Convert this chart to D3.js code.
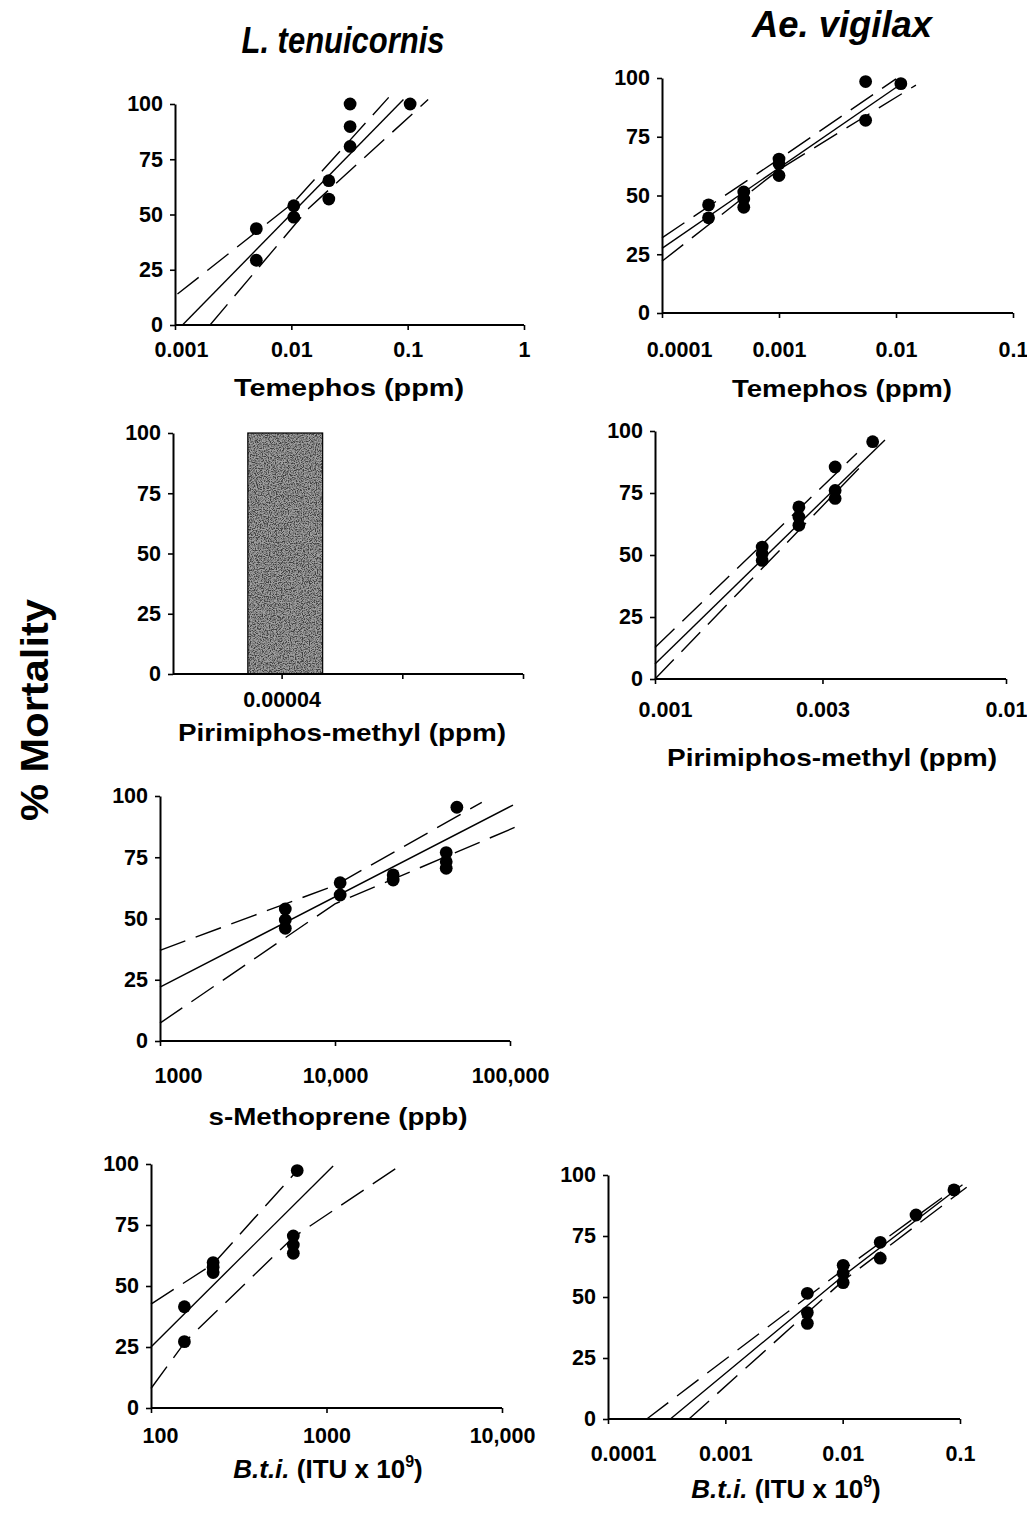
<!DOCTYPE html>
<html><head><meta charset="utf-8">
<script src="https://cdn.jsdelivr.net/npm/d3@7"></script>
<style>body{margin:0;background:#fff} svg{display:block}</style>
</head><body>
<svg id="c" width="1027" height="1514"></svg>
<script>
// ---------------- DATA ----------------
const mortTicks = [0, 25, 50, 75, 100];

// L. tenuicornis - Temephos (ppm)
const ltTemTicks = [0.001, 0.01, 0.1, 1];
const ltTemTickLabels = ["0.001", "0.01", "0.1", "1"];
const ltTemDose = [0.005, 0.005, 0.0105, 0.0105, 0.021, 0.021, 0.032, 0.032, 0.032, 0.105];
const ltTemMort = [43.6, 29.3, 54, 48.8, 65.3, 57, 100, 89.8, 80.8, 100];
const ltTemFit   = [[0.00116, 0], [0.092, 102]];
const ltTemUpper = [[0.00105, 14], [0.0105, 55.5], [0.0687, 103]];
const ltTemLower = [[0.002, 0], [0.0142, 53], [0.15, 102]];

// Ae. vigilax - Temephos (ppm)
const avTemTicks = [0.0001, 0.001, 0.01, 0.1];
const avTemTickLabels = ["0.0001", "0.001", "0.01", "0.1"];
const avTemDose = [0.00025, 0.00025, 0.0005, 0.0005, 0.0005, 0.001, 0.001, 0.001, 0.0055, 0.0055, 0.011];
const avTemMort = [46, 40.5, 51.5, 48.5, 45, 65.5, 63.5, 58.5, 98.5, 82, 97.6];
const avTemFit   = [[0.0001, 27.5], [0.0117, 98.3]];
const avTemUpper = [[0.0001, 32], [0.001, 65.5], [0.01, 99.6]];
const avTemLower = [[0.0001, 22], [0.001, 61], [0.0148, 97]];

// L. tenuicornis - Pirimiphos-methyl (ppm): single dose bar
const ltPirTicks = [1, 2, 3];
const ltPirTickLabels = ["0.00004", "", ""];
const ltPirBarDose = ["0.00004"];
const ltPirBarMort = [100];

// Ae. vigilax - Pirimiphos-methyl (ppm)
const avPirTicks = [0.001, 0.003, 0.01];
const avPirTickLabels = ["0.001", "0.003", "0.01"];
const avPirDose = [0.00202, 0.00202, 0.00202, 0.00257, 0.00257, 0.00257, 0.00326, 0.00326, 0.00326, 0.00417];
const avPirMort = [53.2, 50.5, 47.8, 69.4, 65.3, 62, 85.5, 76, 72.8, 95.7];
const avPirFit   = [[0.001, 6], [0.00452, 96.4]];
const avPirUpper = [[0.001, 12.7], [0.00376, 91]];
const avPirLower = [[0.001, 0], [0.0040, 88]];

// L. tenuicornis - s-Methoprene (ppb)
const ltMetTicks = [1000, 10000, 100000];
const ltMetTickLabels = ["1000", "10,000", "100,000"];
const ltMetDose = [5200, 5200, 5200, 10700, 10700, 21500, 21500, 43200, 43200, 43200, 49700];
const ltMetMort = [53.9, 49.4, 46, 64.6, 59.6, 67.8, 65.7, 76.9, 73.2, 70.5, 95.4];
const ltMetFit   = [[1000, 22], [104000, 96.3]];
const ltMetUpper = [[1000, 37], [10000, 63.5], [69000, 97.4]];
const ltMetLower = [[1000, 7.3], [10000, 56], [109000, 87.5]];

// L. tenuicornis - B.t.i. (ITU x 10^9)
const ltBtiTicks = [100, 1000, 10000];
const ltBtiTickLabels = ["100", "1000", "10,000"];
const ltBtiDose = [155, 155, 226, 226, 226, 647, 647, 647, 681];
const ltBtiMort = [41.5, 27.2, 59.6, 57.7, 55.5, 70.5, 66.8, 63.4, 97.3];
const ltBtiFit   = [[100, 25], [1091, 99.2]];
const ltBtiUpper = [[100, 42.6], [226, 59], [681, 97.3]];
const ltBtiLower = [[100, 8], [158, 27.5], [647, 70], [2466, 98]];

// Ae. vigilax - B.t.i. (ITU x 10^9)
const avBtiTicks = [0.0001, 0.001, 0.01, 0.1];
const avBtiTickLabels = ["0.0001", "0.001", "0.01", "0.1"];
const avBtiDose = [0.005, 0.005, 0.005, 0.0101, 0.0101, 0.0101, 0.0209, 0.0209, 0.0422, 0.0888];
const avBtiMort = [51.5, 43.6, 39.2, 63, 59.7, 55.9, 72.4, 65.9, 83.6, 93.9];
const avBtiFit   = [[0.00034, 0], [0.01, 58.5], [0.105, 96]];
const avBtiUpper = [[0.000214, 0], [0.01, 61], [0.097, 95.6]];
const avBtiLower = [[0.00049, 0], [0.01, 56.5], [0.114, 95]];

// ---------------- DRAWING ----------------
const FONT = "'Liberation Sans', Arial, Helvetica, sans-serif";
const NARROW = "'Liberation Sans Narrow', 'Arial Narrow', 'Liberation Sans', Arial, sans-serif";
const svg = d3.select("#c");

const defs = svg.append("defs");
const filt = defs.append("filter").attr("id", "grain")
  .attr("x", 0).attr("y", 0).attr("width", 1).attr("height", 1);
filt.append("feTurbulence").attr("type", "fractalNoise").attr("baseFrequency", 0.85)
  .attr("numOctaves", 3).attr("seed", 11).attr("result", "noise");
filt.append("feColorMatrix").attr("in", "noise").attr("type", "matrix")
  .attr("values", "0 0 0 0 0.05  0 0 0 0 0.05  0 0 0 0 0.05  3.2 0 0 0 -1.15")
  .attr("result", "specks");
filt.append("feComposite").attr("in", "specks").attr("in2", "SourceGraphic")
  .attr("operator", "in").attr("result", "clipped");
const fm = filt.append("feMerge");
fm.append("feMergeNode").attr("in", "SourceGraphic");
fm.append("feMergeNode").attr("in", "clipped");

function drawAxes(x, y, o) {
  const g = svg.append("g");
  const x0 = o.yAxisX !== undefined ? o.yAxisX : x.range()[0];
  const ya = g.append("g").attr("transform", `translate(${x0},0)`)
    .call(d3.axisLeft(y).tickValues(mortTicks).tickSize(5).tickSizeOuter(0).tickPadding(7));
  ya.selectAll("text").attr("font-family", FONT).attr("font-weight", "bold")
    .attr("font-size", 21.5).attr("fill", "#000");
  const xa = g.append("g").attr("transform", `translate(0,${y(0)})`)
    .call(d3.axisBottom(x).tickValues(o.ticks).tickFormat((d, i) => o.labels[i])
      .tickSize(5).tickSizeOuter(0).tickPadding(o.labPad));
  xa.selectAll("text").attr("font-family", FONT).attr("font-weight", "bold")
    .attr("font-size", 21.5).attr("fill", "#000")
    .attr("dx", (d, i) => i === 0 ? o.dx0 : 0);
  xa.select(".domain").attr("d", `M${x0},0H${x.range()[1]}`);
  g.selectAll(".domain").attr("stroke", "#000").attr("stroke-width", 2);
  g.selectAll(".tick line").attr("stroke", "#000").attr("stroke-width", 1.6);
}

function drawFit(x, y, solid, upper, lower) {
  const line = d3.line().x(d => x(d[0])).y(d => y(d[1]));
  const g = svg.append("g").attr("fill", "none").attr("stroke", "#000").attr("stroke-width", 1.4);
  g.append("path").attr("d", line(solid));
  g.append("path").attr("d", line(upper)).attr("stroke-dasharray", "27,11");
  g.append("path").attr("d", line(lower)).attr("stroke-dasharray", "27,11");
}

function drawPoints(x, y, dose, mort) {
  svg.append("g").selectAll("circle").data(dose).join("circle")
    .attr("cx", d => x(d)).attr("cy", (d, i) => y(mort[i])).attr("r", 6.4).attr("fill", "#000");
}

function axisTitle(cx, by, width, build, size) {
  const t = svg.append("text").attr("x", cx).attr("y", by).attr("text-anchor", "middle")
    .attr("font-family", FONT).attr("font-weight", "bold").attr("font-size", size || 24).attr("fill", "#000");
  build(t);
  if (width) t.attr("textLength", width).attr("lengthAdjust", "spacingAndGlyphs");
  return t;
}
function btiTitle(t) {
  t.append("tspan").attr("font-style", "italic").text("B.t.i.");
  t.append("tspan").text(" (ITU x 10");
  t.append("tspan").attr("font-size", 16).attr("dy", -11).text("9");
  t.append("tspan").attr("dy", 11).text(")");
}

// Panel 1: L. tenuicornis Temephos
{
  const x = d3.scaleLog().domain([0.001, 1]).range([175, 524]);
  const y = d3.scaleLinear().domain([0, 100]).range([325, 104]);
  drawFit(x, y, ltTemFit, ltTemUpper, ltTemLower);
  drawPoints(x, y, ltTemDose, ltTemMort);
  drawAxes(x, y, {ticks: ltTemTicks, labels: ltTemTickLabels, labPad: 12, dx0: 6});
  axisTitle(349, 396, 230, t => t.text("Temephos (ppm)"));
}
// Panel 2: Ae. vigilax Temephos
{
  const x = d3.scaleLog().domain([0.0001, 0.1]).range([662, 1013]);
  const y = d3.scaleLinear().domain([0, 100]).range([313, 78]);
  drawFit(x, y, avTemFit, avTemUpper, avTemLower);
  drawPoints(x, y, avTemDose, avTemMort);
  drawAxes(x, y, {ticks: avTemTicks, labels: avTemTickLabels, labPad: 24, dx0: 17});
  axisTitle(842, 397, 220, t => t.text("Temephos (ppm)"));
}
// Panel 3: L. tenuicornis Pirimiphos-methyl (bar)
{
  const x = d3.scaleLinear().domain([0.1, 3]).range([173, 523]);
  const y = d3.scaleLinear().domain([0, 100]).range([674, 433]);
  const bw = 0.62;
  const bars = svg.append("g");
  bars.selectAll("rect.fill").data(ltPirBarMort).join("rect").attr("class", "fill")
    .attr("x", x(1.03 - bw / 2)).attr("width", x(1.03 + bw / 2) - x(1.03 - bw / 2))
    .attr("y", d => y(d)).attr("height", d => y(0) - y(d))
    .attr("fill", "#a2a2a2").attr("filter", "url(#grain)");
  bars.selectAll("rect.edge").data(ltPirBarMort).join("rect").attr("class", "edge")
    .attr("x", x(1.03 - bw / 2)).attr("width", x(1.03 + bw / 2) - x(1.03 - bw / 2))
    .attr("y", d => y(d)).attr("height", d => y(0) - y(d))
    .attr("fill", "none").attr("stroke", "#000").attr("stroke-width", 1.2);
  drawAxes(x, y, {ticks: ltPirTicks, labels: ltPirTickLabels, labPad: 13, dx0: 0, yAxisX: 173});
  axisTitle(342, 741, 328, t => t.text("Pirimiphos-methyl (ppm)"));
}
// Panel 4: Ae. vigilax Pirimiphos-methyl
{
  const x = d3.scaleLog().domain([0.001, 0.01]).range([655, 1006]);
  const y = d3.scaleLinear().domain([0, 100]).range([679, 431]);
  drawFit(x, y, avPirFit, avPirUpper, avPirLower);
  drawPoints(x, y, avPirDose, avPirMort);
  drawAxes(x, y, {ticks: avPirTicks, labels: avPirTickLabels, labPad: 18, dx0: 10});
  axisTitle(832, 766, 330, t => t.text("Pirimiphos-methyl (ppm)"));
}
// Panel 5: L. tenuicornis s-Methoprene
{
  const x = d3.scaleLog().domain([1000, 100000]).range([160, 510]);
  const y = d3.scaleLinear().domain([0, 100]).range([1041, 796]);
  drawFit(x, y, ltMetFit, ltMetUpper, ltMetLower);
  drawPoints(x, y, ltMetDose, ltMetMort);
  drawAxes(x, y, {ticks: ltMetTicks, labels: ltMetTickLabels, labPad: 22, dx0: 18});
  axisTitle(338, 1125, 259, t => t.text("s-Methoprene (ppb)"));
}
// Panel 6: L. tenuicornis B.t.i.
{
  const x = d3.scaleLog().domain([100, 10000]).range([151, 502]);
  const y = d3.scaleLinear().domain([0, 100]).range([1408, 1164]);
  drawFit(x, y, ltBtiFit, ltBtiUpper, ltBtiLower);
  drawPoints(x, y, ltBtiDose, ltBtiMort);
  drawAxes(x, y, {ticks: ltBtiTicks, labels: ltBtiTickLabels, labPad: 15, dx0: 9});
  axisTitle(328, 1478, null, btiTitle, 26);
}
// Panel 7: Ae. vigilax B.t.i.
{
  const x = d3.scaleLog().domain([0.0001, 0.1]).range([608, 960]);
  const y = d3.scaleLinear().domain([0, 100]).range([1419, 1175]);
  drawFit(x, y, avBtiFit, avBtiUpper, avBtiLower);
  drawPoints(x, y, avBtiDose, avBtiMort);
  drawAxes(x, y, {ticks: avBtiTicks, labels: avBtiTickLabels, labPad: 22, dx0: 15});
  axisTitle(786, 1498, null, btiTitle, 26);
}

// Species headings and shared y title
svg.append("text").attr("x", 343).attr("y", 53).attr("text-anchor", "middle")
  .attr("font-family", NARROW).attr("font-weight", "bold").attr("font-style", "italic")
  .attr("font-size", 37).attr("textLength", 203).attr("lengthAdjust", "spacingAndGlyphs")
  .text("L. tenuicornis");
svg.append("text").attr("x", 842).attr("y", 37).attr("text-anchor", "middle")
  .attr("font-family", NARROW).attr("font-weight", "bold").attr("font-style", "italic")
  .attr("font-size", 37).attr("textLength", 180).attr("lengthAdjust", "spacingAndGlyphs")
  .text("Ae. vigilax");
svg.append("text").attr("transform", "translate(48,710) rotate(-90)").attr("text-anchor", "middle")
  .attr("font-family", FONT).attr("font-weight", "bold").attr("font-size", 38)
  .attr("textLength", 222).attr("lengthAdjust", "spacingAndGlyphs")
  .text("% Mortality");
</script>
</body></html>
